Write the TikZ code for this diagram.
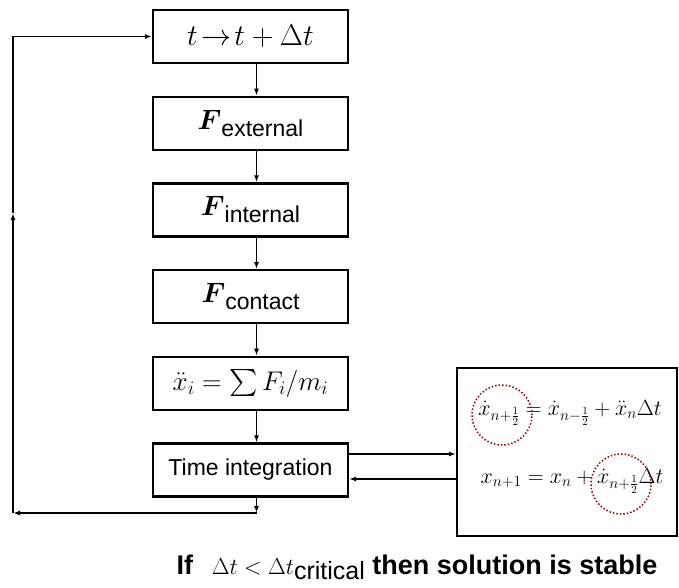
\RequirePackage{fix-cm}
\documentclass[tikz,border=0pt]{standalone}
\usepackage{amsmath,amssymb}
\usepackage{fontspec}
\setsansfont{Liberation Sans}
\usetikzlibrary{arrows.meta,positioning}

\newcommand{\Fsub}[1]{$\boldsymbol{F}$\raisebox{-7pt}{\fontsize{23}{25}\selectfont\sffamily #1}}

\begin{document}
\begin{tikzpicture}[
  x=1pt, y=-1pt,
  stepbox/.style={
    draw, line width=2.2pt, align=center, inner sep=2pt,
    minimum width=195pt, minimum height=53pt
  },
  resbox/.style={
    draw, line width=2.2pt, minimum width=220pt, minimum height=168pt
  },
  ring/.style={
    circle, draw=red!60!black, dotted, line width=1.5pt,
    minimum size=60pt, inner sep=0pt
  },
  arr/.style={-{Latex[length=7pt,width=5pt]}, line width=1.7pt},
  line/.style={line width=1.7pt}
]
\useasboundingbox (0,0) rectangle (679,588);

% main loop
\node[stepbox] (b1) at (250.5,36.5) {\fontsize{30}{32}\selectfont$t\!\to\! t+\Delta t$};
\node[stepbox, below=31.5pt of b1] (b2) {\fontsize{28}{30}\selectfont\Fsub{external}};
\node[stepbox, below=31.5pt of b2] (b3) {\fontsize{28}{30}\selectfont\Fsub{internal}};
\node[stepbox, below=31.5pt of b3] (b4) {\fontsize{28}{30}\selectfont\Fsub{contact}};
\node[stepbox, below=31.5pt of b4] (b5) {\fontsize{27}{30}\selectfont$\ddot{x}_i = \sum F_i/m_i$};
\node[stepbox, below=31.5pt of b5] (b6) {\fontsize{23}{26}\selectfont\sffamily Time integration};

\draw[arr] ([xshift=6pt]b1.south) -- ([xshift=6pt]b2.north);
\draw[arr] ([xshift=6pt]b2.south) -- ([xshift=6pt]b3.north);
\draw[arr] ([xshift=6pt]b3.south) -- ([xshift=6pt]b4.north);
\draw[arr] ([xshift=6pt]b4.south) -- ([xshift=6pt]b5.north);
\draw[arr] ([xshift=6pt]b5.south) -- ([xshift=6pt]b6.north);

% back to the start
\coordinate (lb) at (256.5,513);
\coordinate (lc) at (13,513);
\coordinate (lm) at (13,213);
\coordinate (lt) at (lc |- b1.west);

\draw[arr] ([xshift=6pt]b6.south) -- (lb);
\draw[arr] (lb) -- (lc);
\draw[arr] (lc) -- (lm);
\draw[line] (lm) -- (lt);
\draw[arr] (lt) -- (b1.west);

% integration scheme
\node[resbox] (res) at (567,452) {};
\node (eqa) at (570,413) {\fontsize{22}{24}\selectfont$\dot{x}_{n+\frac{1}{2}} = \dot{x}_{n-\frac{1}{2}} + \ddot{x}_n\Delta t$};
\node (eqb) at (572,481) {\fontsize{22}{24}\selectfont$x_{n+1} = x_n + \dot{x}_{n+\frac{1}{2}}\Delta t$};
\node[ring] (ra) at (502,415) {};
\node[ring] (rb) at (621,484) {};

\draw[arr] ([yshift=16pt]b6.east) -- ([yshift=16pt]b6.east -| res.west);
\draw[arr] ([yshift=-9pt]b6.east -| res.west) -- ([yshift=-9pt]b6.east);

\node (cond) at (417,567) {\fontsize{27}{29}\selectfont\sffamily\bfseries If\hspace{0.7em}{\fontsize{23}{25}\selectfont$\Delta t<\Delta t$}\raisebox{-5pt}{\fontsize{25}{27}\selectfont\mdseries critical} then solution is stable};
\end{tikzpicture}
\end{document}
